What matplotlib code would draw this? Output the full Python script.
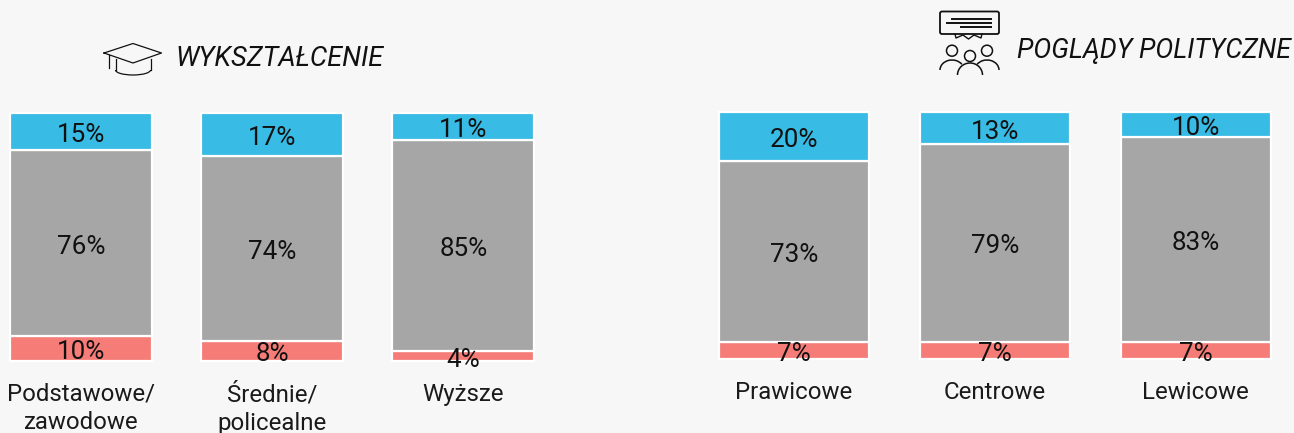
import matplotlib
matplotlib.use("Agg")
import matplotlib.pyplot as plt
import numpy as np
from matplotlib.patches import Arc, Circle, FancyBboxPatch

W, H = 1294, 433
BG = "#F7F7F7"
plt.rcParams["font.family"] = ["Roboto", "DejaVu Sans"]

edu_categories = ["Podstawowe/\nzawodowe", "Średnie/\npolicealne", "Wyższe"]
edu_bottom = [10, 8, 4]
edu_middle = [76, 74, 85]
edu_top = [15, 17, 11]

pol_categories = ["Prawicowe", "Centrowe", "Lewicowe"]
pol_bottom = [7, 7, 7]
pol_middle = [73, 79, 83]
pol_top = [20, 13, 10]

COLORS = ["#F67C78", "#A6A6A6", "#38BBE4"]

fig = plt.figure(figsize=(W / 100, H / 100), dpi=100, facecolor=BG)


def px_axes(x0, x1, ytop, ybot):
    ax = fig.add_axes([x0 / W, 1 - ybot / H, (x1 - x0) / W, (ybot - ytop) / H])
    ax.set_facecolor("none")
    ax.set_axis_off()
    return ax


def stacked(ax, cats, bottom, middle, top, width, label_y):
    x = np.arange(len(cats))
    data = np.array([bottom, middle, top], dtype=float)
    total = data.sum(axis=0)
    base = np.zeros(len(cats))
    for row, color in zip(data, COLORS):
        share = row / total
        ax.bar(x, share, width, bottom=base, color=color, edgecolor="white", linewidth=1.6, clip_on=False)
        for xi, b, s, v in zip(x, base, share, row):
            ax.text(xi, b + s / 2 - 0.014, f"{int(v)}%", ha="center", va="center",
                    fontsize=18.7, color="#111111", clip_on=False)
        base += share
    ax.set_xlim(-0.5, len(cats) - 0.5)
    ax.set_ylim(0, 1)
    for xi, c in zip(x, cats):
        ax.text(xi, label_y, c, ha="center", va="top", fontsize=17.3, color="#1a1a1a",
                linespacing=1.3, clip_on=False)


c1 = 81.0; s1 = 191.2
ax1 = px_axes(c1 - s1 / 2, c1 + 2.5 * s1, 113, 361)
stacked(ax1, edu_categories, edu_bottom, edu_middle, edu_top, 142 / s1, -0.088)

c2 = 794.0; s2 = 200.9
ax2 = px_axes(c2 - s2 / 2, c2 + 2.5 * s2, 112, 359)
stacked(ax2, pol_categories, pol_bottom, pol_middle, pol_top, 150 / s2, -0.088)

# overlay in pixel coordinates for headings and icons
ov = fig.add_axes([0, 0, 1, 1])
ov.set_xlim(0, W)
ov.set_ylim(H, 0)
ov.set_axis_off()
ov.set_facecolor("none")

ov.text(175, 59, "WYKSZTAŁCENIE", style="italic", fontsize=19.6, ha="left", va="center", color="#111111")
ov.text(1017, 51, "POGLĄDY POLITYCZNE", style="italic", fontsize=19.3, ha="left", va="center", color="#111111")

LW = 0.9
k = "#111111"
# graduation cap
ov.plot([104, 133, 161.5, 133, 104], [53, 43.5, 53, 63, 53], color=k, lw=LW)
ov.plot([109, 109], [55, 68], color=k, lw=LW)
ov.plot([115.5, 115.5], [59, 70], color=k, lw=LW)
ov.plot([150.5, 150.5], [59, 70], color=k, lw=LW)
ov.add_patch(Arc((133, 70), 35, 10, theta1=0, theta2=180, color=k, lw=LW))

# speech bubble
ov.add_patch(FancyBboxPatch((940, 11.5), 59, 22.5, boxstyle="round,pad=0,rounding_size=2",
                            fc="none", ec=k, lw=1.3))
ov.plot([952, 991], [18.7, 18.7], color=k, lw=1.4)
ov.plot([947, 991], [22.7, 22.7], color=k, lw=1.4)
ov.plot([961, 991], [26.7, 26.7], color=k, lw=1.4)
ov.plot([955, 956, 963, 968.5, 974, 981, 982], [34, 38, 35, 39, 35, 38, 34], color=k, lw=1.0)
# people
for cx, cy in [(952, 50.7), (970, 56), (987, 50.7)]:
    ov.add_patch(Circle((cx, cy), 5.5, fc="none", ec=k, lw=1.1))
ov.add_patch(Arc((952, 70), 24, 20, theta1=180, theta2=330, color=k, lw=1.1))
ov.add_patch(Arc((987, 70), 24, 20, theta1=210, theta2=360, color=k, lw=1.1))
ov.add_patch(Arc((970, 75), 25, 24, theta1=180, theta2=360, color=k, lw=1.1))

fig.savefig("out.png", dpi=100, facecolor=BG)
